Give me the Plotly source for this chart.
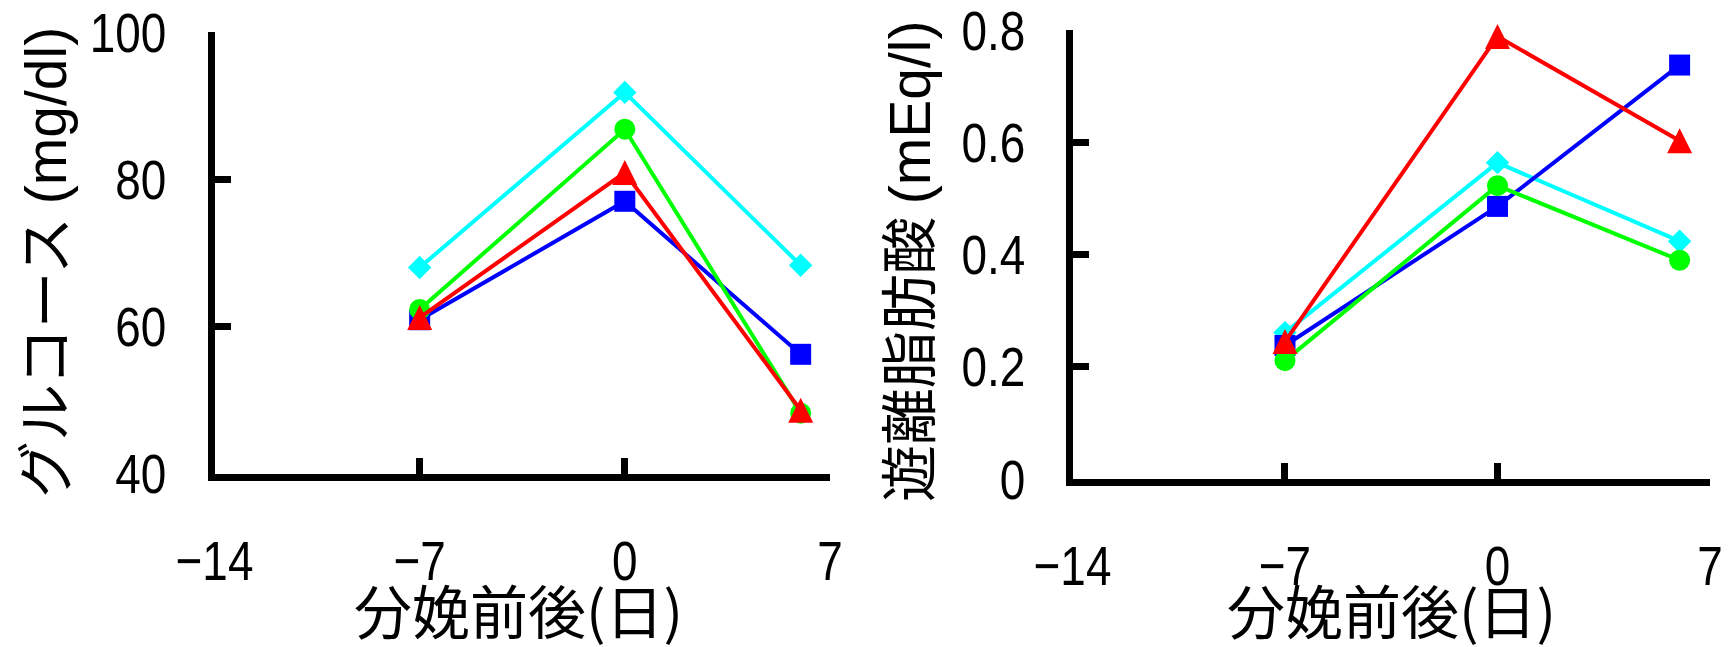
import plotly.graph_objects as go

# ---- data ----
days = [-7, 0, 6]
x_tickvals = [-14, -7, 0, 7]
x_ticktext = ["\u221214", "\u22127", "0", "7"]

glu_y_tickvals = [40, 60, 80, 100]
glu_y_ticktext = ["40", "60", "80", "100"]
ffa_y_tickvals = [0, 0.2, 0.4, 0.6, 0.8]
ffa_y_ticktext = ["0", "0.2", "0.4", "0.6", "0.8"]

glu_cyan = [68.0, 91.8, 68.3]
glu_blue = [60.9, 77.0, 56.2]
glu_green = [62.3, 86.8, 48.2]
glu_red = [61.2, 80.9, 48.6]

ffa_cyan = [0.261, 0.564, 0.424]
ffa_blue = [0.238, 0.486, 0.738]
ffa_green = [0.211, 0.523, 0.390]
ffa_red = [0.245, 0.789, 0.603]

x_title = "分娩前後(日)"
glu_title_jp, glu_title_unit = "グルコース", "(mg/dl)"
ffa_title_jp, ffa_title_unit = "遊離脂肪酸", "(mEq/l)"

W, H = 1735, 647
NUM_FONT = "Liberation Sans, Arial, sans-serif"
CJK_FONT = "Noto Sans CJK JP, sans-serif"

fig = go.Figure()

series = [
    ("#00FFFF", "diamond", 18, 0, 0),
    ("#0000FF", "square", 21, 0, 0),
    ("#00FF00", "circle", 21, 0, 0),
    ("#FF0000", "arrow-down", 25, 180, 12.5),
]


def add_series(vals_list, xa, ya):
    for vals, (col, sym, sz, ang, so) in zip(vals_list, series):
        fig.add_trace(go.Scatter(
            x=days, y=vals, xaxis=xa, yaxis=ya, mode="lines+markers",
            line=dict(color=col, width=4),
            marker=dict(color=col, symbol=sym, size=sz, angle=ang, standoff=so,
                        line=dict(width=0)),
            showlegend=False, cliponaxis=False,
        ))


add_series([glu_cyan, glu_blue, glu_green, glu_red], "x", "y")
add_series([ffa_cyan, ffa_blue, ffa_green, ffa_red], "x2", "y2")

axis_common = dict(
    showline=True, linewidth=7, linecolor="black", mirror=False,
    ticks="inside", ticklen=16, tickwidth=7, tickcolor="black",
    showgrid=False, zeroline=False, automargin=False,
    ticklabeloverflow="allow",
    tickfont=dict(family=NUM_FONT, size=56, color="black"),
)

lx0, lx1 = 214.5 / W, 830 / W
rx0, rx1 = 1072.5 / W, 1710 / W
ly0, ly1 = 1 - 473.5 / H, 1 - 32 / H
ry0, ry1 = 1 - 479 / H, 1 - 30 / H

fig.update_layout(
    width=W, height=H,
    margin=dict(l=0, r=0, t=0, b=0, autoexpand=False),
    paper_bgcolor="white", plot_bgcolor="white",
    xaxis=dict(domain=[lx0, lx1], range=[-14, 7.001], tickvals=x_tickvals, ticktext=x_ticktext,
               anchor="y", ticklabelstandoff=32, **axis_common),
    yaxis=dict(domain=[ly0, ly1], range=[40, 100.01], tickvals=glu_y_tickvals, ticktext=glu_y_ticktext,
               anchor="x", ticklabelstandoff=30, **axis_common),
    xaxis2=dict(domain=[rx0, rx1], range=[-14, 7.001], tickvals=x_tickvals, ticktext=x_ticktext,
                anchor="y2", ticklabelstandoff=32, **axis_common),
    yaxis2=dict(domain=[ry0, ry1], range=[0, 0.8005], tickvals=ffa_y_tickvals, ticktext=ffa_y_ticktext,
                anchor="x2", ticklabelstandoff=29, **axis_common),
)


def ytitle(jp, unit):
    return (jp + " <span style=\"font-family:Liberation Sans, Arial, sans-serif\">"
            + unit + "</span>")


ann_common = dict(xref="paper", yref="paper", showarrow=False,
                  xanchor="center", yanchor="middle")
fig.add_annotation(text=x_title, x=518 / W, y=1 - 609 / H,
                   font=dict(family=CJK_FONT, size=58, color="black"), **ann_common)
fig.add_annotation(text=x_title, x=1391 / W, y=1 - 609 / H,
                   font=dict(family=CJK_FONT, size=58, color="black"), **ann_common)
fig.add_annotation(text=ytitle(glu_title_jp, glu_title_unit), x=41 / W, y=1 - 263 / H, textangle=-90,
                   font=dict(family=CJK_FONT, size=57, color="black"), **ann_common)
fig.add_annotation(text=ytitle(ffa_title_jp, ffa_title_unit), x=905 / W, y=1 - 262 / H, textangle=-90,
                   font=dict(family=CJK_FONT, size=57, color="black"), **ann_common)

narrow_js = """
document.body.style.margin='0';
document.body.style.overflow='hidden';
var gd = document.getElementById('{plot_id}');
function narrowTicks(){
  var nodes = gd.querySelectorAll('.xtick text, .ytick text, .xaxislayer-above text, .yaxislayer-above text');
  nodes.forEach(function(t){
    var tr = t.getAttribute('transform') || '';
    if (tr.indexOf('scale(0.82') !== -1) return;
    var x = parseFloat(t.getAttribute('x')) || 0;
    var y = parseFloat(t.getAttribute('y')) || 0;
    t.setAttribute('transform', tr + ' translate(' + x + ',' + y + ') scale(0.82,1) translate(' + (-x) + ',' + (-y) + ')');
  });
}
narrowTicks();
gd.on('plotly_afterplot', narrowTicks);
[0, 50, 200, 500, 1000].forEach(function(ms){ setTimeout(narrowTicks, ms); });
"""

fig.write_html("out.html", config={"displayModeBar": False}, post_script=narrow_js)
